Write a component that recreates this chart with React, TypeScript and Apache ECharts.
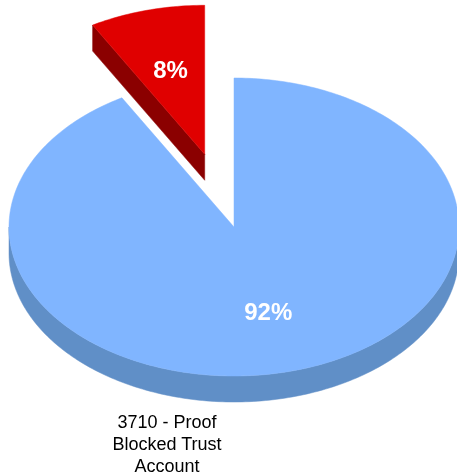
import React, { useEffect, useRef } from "react";
import * as echarts from "echarts";

const categories = ["Other", "3710 - Proof Blocked Trust Account"];
const values = [8.3, 91.7];
const topColors = ["#E00000", "#80B5FF"];
const sideColors = ["#8B0000", "#608FC7"];
const explode = [0.505, 0];
const legendText = "3710 - Proof\nBlocked Trust\nAccount";

const CX = 234;
const CY = 227;
const RX = 225;
const RY = 149;
const DEPTH = 26;
const FONT = "Liberation Sans, Arial, sans-serif";

export default function App() {
  const ref = useRef<HTMLDivElement>(null);
  useEffect(() => {
    if (!ref.current) return;
    const chart = echarts.init(ref.current, null, { renderer: "svg" });
    const total = values.reduce((s, v) => s + v, 0);
    const starts: number[] = [];
    let acc = 0;
    values.forEach((v) => {
      starts.push((acc / total) * 360);
      acc += v;
    });
    const rad = (d: number) => (d * Math.PI) / 180;

    const renderItem = (params: any, api: any) => {
      const i = params.dataIndex;
      const v = api.value(0);
      const a = starts[i];
      const b = a + (v / total) * 360;
      const mid = (a + b) / 2;
      const ox = -Math.sin(rad(mid)) * RX * explode[i];
      const oy = -Math.cos(rad(mid)) * RY * explode[i];
      const cx = CX + ox;
      const cy = CY + oy;
      const pt = (phi: number, dz = 0): number[] => [
        cx - RX * Math.sin(rad(phi)),
        cy - RY * Math.cos(rad(phi)) + dz,
      ];
      const arc = (from: number, to: number, dz = 0) => {
        const pts: number[][] = [];
        const n = Math.max(2, Math.ceil(Math.abs(to - from)));
        for (let k = 0; k <= n; k++) pts.push(pt(from + ((to - from) * k) / n, dz));
        return pts;
      };
      const children: any[] = [];
      const wa = Math.max(a, 90);
      const wb = Math.min(b, 270);
      if (wb > wa) {
        const top = arc(wa, wb);
        const bot = arc(wa, wb, DEPTH).reverse();
        children.push({
          type: "polygon",
          shape: { points: top.concat(bot) },
          style: { fill: sideColors[i], stroke: sideColors[i], lineWidth: 0.5 },
        });
      }
      const faceAt = (phi: number) => [
        [cx, cy],
        pt(phi),
        pt(phi, DEPTH),
        [cx, cy + DEPTH],
      ];
      if (Math.sin(rad(a)) < -1e-6) {
        children.push({
          type: "polygon",
          shape: { points: faceAt(a) },
          style: { fill: sideColors[i], stroke: sideColors[i], lineWidth: 0.5 },
        });
      }
      if (Math.sin(rad(b)) > 1e-6) {
        children.push({
          type: "polygon",
          shape: { points: faceAt(b) },
          style: { fill: sideColors[i], stroke: sideColors[i], lineWidth: 0.5 },
        });
      }
      children.push({
        type: "polygon",
        shape: { points: [[cx, cy]].concat(arc(a, b)) },
        style: { fill: topColors[i], stroke: topColors[i], lineWidth: 0.5 },
      });
      const lr = 0.59;
      children.push({
        type: "text",
        style: {
          text: Math.round((v / total) * 100) + "%",
          x: cx - RX * lr * Math.sin(rad(mid)),
          y: cy - RY * lr * Math.cos(rad(mid)),
          fill: "#ffffff",
          font: "bold 24px " + FONT,
          align: "center",
          verticalAlign: "middle",
        },
      });
      return { type: "group", children };
    };

    chart.setOption({
      animation: false,
      series: [
        {
          type: "custom",
          coordinateSystem: "none",
          renderItem,
          data: values.map((v, i) => ({ value: [v], name: categories[i] })),
        },
      ],
      graphic: [
        {
          type: "text",
          x: 167,
          y: 411,
          style: {
            text: legendText,
            fill: "#000000",
            font: "18px " + FONT,
            lineHeight: 22,
            align: "center",
            verticalAlign: "top",
          },
        },
      ],
    });
    return () => chart.dispose();
  }, []);
  return (
    <div
      ref={ref}
      style={{ position: "fixed", left: 0, top: 0, width: 457, height: 475 }}
    />
  );
}
